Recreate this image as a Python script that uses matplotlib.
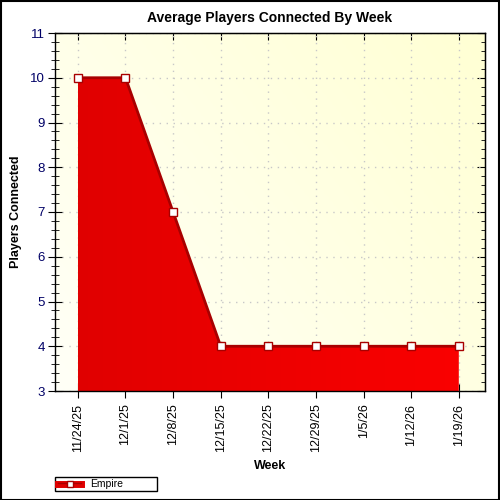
import matplotlib
matplotlib.use("Agg")
import matplotlib.pyplot as plt
import numpy as np
from matplotlib.ticker import MultipleLocator
from matplotlib.patches import Rectangle
from matplotlib.lines import Line2D

weeks = ["11/24/25", "12/1/25", "12/8/25", "12/15/25", "12/22/25",
         "12/29/25", "1/5/26", "1/12/26", "1/19/26"]
players = [10, 10, 7, 4, 4, 4, 4, 4, 4]
series_name = "Empire"

plt.rcParams['font.family'] = ['Liberation Sans', 'DejaVu Sans']

fig = plt.figure(figsize=(5, 5), dpi=100)
fig.patch.set_facecolor("white")
ax = fig.add_axes([0.11, 0.218, 0.86, 0.716])

x = np.arange(len(weeks))
xmin, xmax = -0.48, len(weeks) - 1 + 0.55
ymin, ymax = 3, 11
ax.set_xlim(xmin, xmax)
ax.set_ylim(ymin, ymax)

# background gradient
gx = np.linspace(0, 1, 256)
gy = np.linspace(0, 1, 64)
GX, GY = np.meshgrid(gx, gy)
t = np.clip(0.6 * GX + 0.4 * GY, 0, 1)
c0 = np.array([1.0, 1.0, 0.97])
c1 = np.array([1.0, 1.0, 0.83])
bg = c0[None, None, :] * (1 - t[..., None]) + c1[None, None, :] * t[..., None]
ax.imshow(bg, extent=[xmin, xmax, ymin, ymax], origin="lower", aspect="auto", zorder=0)

# area fill with gradient
poly = ax.fill_between(x, players, ymin, color="none", zorder=2)
r0 = np.array([0.88, 0.0, 0.0])
r1 = np.array([0.98, 0.0, 0.0])
rg = r0[None, None, :] * (1 - GX[..., None]) + r1[None, None, :] * GX[..., None]
im = ax.imshow(rg, extent=[x[0], x[-1], ymin, max(players)], origin="lower",
               aspect="auto", zorder=2)
im.set_clip_path(poly.get_paths()[0], transform=ax.transData)
ax.plot(x, players, color="#a80000", lw=2, zorder=3)
ax.plot(x, players, ls="none", marker="s", ms=6, mfc="white", mec="#a80000",
        mew=1, zorder=4)

ax.grid(True, which="major", color="#c8c8c8", ls=(0, (1, 4)), lw=1, zorder=1)
for gl in ax.get_xgridlines() + ax.get_ygridlines():
    gl.set_zorder(1)

ax.set_xticks(x)
ax.set_xticklabels(weeks, rotation=90, fontsize=9)
ax.yaxis.set_major_locator(MultipleLocator(1))
ax.yaxis.set_minor_locator(MultipleLocator(0.2))
ax.tick_params(axis="y", which="major", direction="inout", length=10, labelsize=9.5,
               labelcolor="#000066", pad=2.5)
ax.tick_params(axis="y", which="minor", direction="inout", length=6)
ax.tick_params(axis="x", which="major", direction="inout", length=10, pad=4)
for s in ax.spines.values():
    s.set_linewidth(1)
    s.set_zorder(5)

# right / top inward ticks
sy = ax.secondary_yaxis("right")
sy.yaxis.set_major_locator(MultipleLocator(1))
sy.yaxis.set_minor_locator(MultipleLocator(0.2))
sy.tick_params(axis="y", which="major", direction="in", length=6, labelright=False)
sy.tick_params(axis="y", which="minor", direction="in", length=3)
sx = ax.secondary_xaxis("top")
sx.set_xticks(x)
sx.tick_params(axis="x", direction="in", length=5, labeltop=False)

fig.text(0.5 * (55 + 485) / 500, 1 - 18 / 500, "Average Players Connected By Week",
         fontsize=10, fontweight="bold", ha="center", va="center")
fig.text(16 / 500, 1 - 212 / 500, "Players Connected", fontsize=9, fontweight="bold",
         rotation=90, ha="center", va="center")
fig.text(270 / 500, 1 - 466 / 500, "Week", fontsize=9, fontweight="bold",
         ha="center", va="center")

# legend (drawn in figure coordinates)
fig.add_artist(Rectangle((55 / 500, 1 - 491 / 500), 102 / 500, 14 / 500,
                         transform=fig.transFigure, fill=False, edgecolor="black", lw=1))
fig.add_artist(Line2D([58 / 500, 81 / 500], [1 - 484 / 500] * 2, transform=fig.transFigure,
                      color="#e00000", lw=5))
fig.add_artist(Line2D([58 / 500, 81 / 500], [1 - 482.5 / 500] * 2, transform=fig.transFigure,
                      color="#a80000", lw=1))
fig.add_artist(Line2D([69.5 / 500], [1 - 484 / 500], transform=fig.transFigure,
                      marker="s", ms=5, mfc="white", mec="#a80000", ls="none"))
fig.text(90 / 500, 1 - 484 / 500, series_name, fontsize=7.5, va="center", ha="left")

fig.add_artist(Rectangle((0.001, 0.001), 0.997, 0.997, transform=fig.transFigure,
                         fill=False, edgecolor="black", lw=1.5))

fig.savefig("out.png", dpi=100)
